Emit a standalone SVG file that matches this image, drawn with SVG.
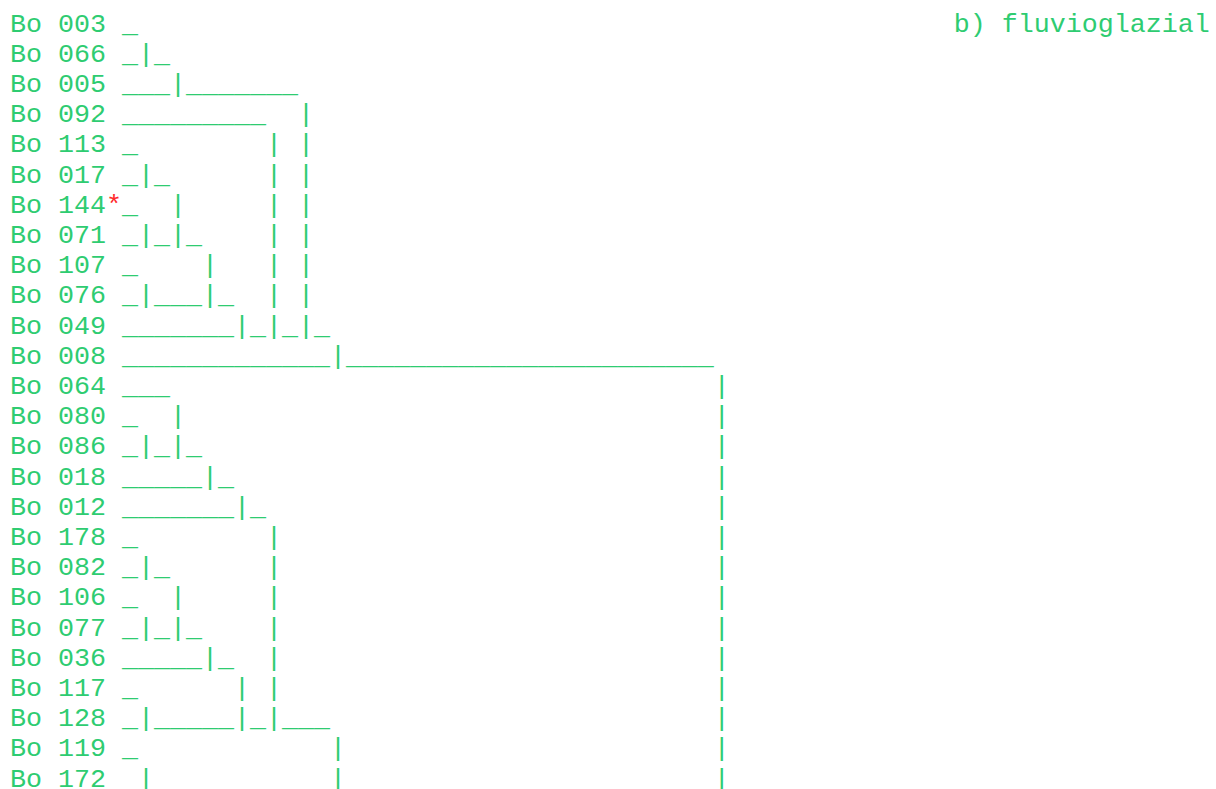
<svg xmlns="http://www.w3.org/2000/svg" width="1216" height="789" viewBox="0 0 1216 789">
<style>
text{font-family:"Liberation Mono","Courier New",monospace;font-size:26.667px;fill:#2ecc71;white-space:pre}
.r{fill:#ff2a2a}
</style>
<rect width="1216" height="789" fill="#ffffff"/>
<g id="dendrogram" xml:space="preserve">
<text x="10" y="31.5">Bo 003 _                                                   b) fluvioglazial</text>
<text x="10" y="61.7">Bo 066 _|_</text>
<text x="10" y="91.9">Bo 005 ___|_______</text>
<text x="10" y="122.1">Bo 092 _________  |</text>
<text x="10" y="152.3">Bo 113 _        | |</text>
<text x="10" y="182.5">Bo 017 _|_      | |</text>
<text x="10" y="212.7">Bo 144<tspan class="r">*</tspan>_  |     | |</text>
<text x="10" y="242.9">Bo 071 _|_|_    | |</text>
<text x="10" y="273.1">Bo 107 _    |   | |</text>
<text x="10" y="303.3">Bo 076 _|___|_  | |</text>
<text x="10" y="333.5">Bo 049 _______|_|_|_</text>
<text x="10" y="363.7">Bo 008 _____________|_______________________</text>
<text x="10" y="393.9">Bo 064 ___                                  |</text>
<text x="10" y="424.1">Bo 080 _  |                                 |</text>
<text x="10" y="454.3">Bo 086 _|_|_                                |</text>
<text x="10" y="484.5">Bo 018 _____|_                              |</text>
<text x="10" y="514.7">Bo 012 _______|_                            |</text>
<text x="10" y="544.9">Bo 178 _        |                           |</text>
<text x="10" y="575.1">Bo 082 _|_      |                           |</text>
<text x="10" y="605.3">Bo 106 _  |     |                           |</text>
<text x="10" y="635.5">Bo 077 _|_|_    |                           |</text>
<text x="10" y="665.7">Bo 036 _____|_  |                           |</text>
<text x="10" y="695.9">Bo 117 _      | |                           |</text>
<text x="10" y="726.1">Bo 128 _|_____|_|___                        |</text>
<text x="10" y="756.3">Bo 119 _            |                       |</text>
<text x="10" y="786.5">Bo 172  |           |                       |</text>
</g>
</svg>
